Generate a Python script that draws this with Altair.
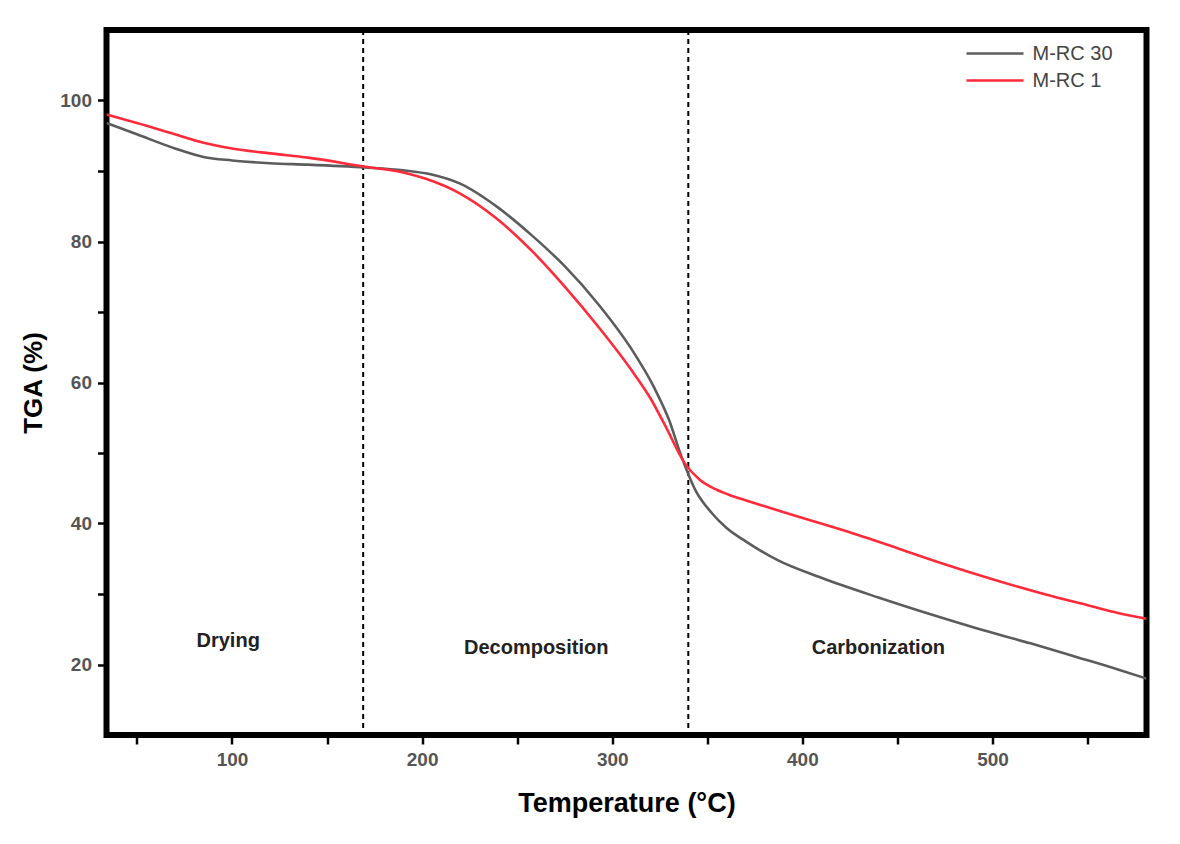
import altair as alt
import pandas as pd

# ---- data ----
temp_rc30 = [34, 50, 70, 85, 100, 120, 140, 170, 190, 205, 220, 240, 258, 275, 293, 310, 322,
             330, 336, 344, 352, 360, 370, 387, 410, 440, 470, 492, 520, 545, 566, 581]
tga_rc30 = [96.8, 95.2, 93.2, 92.0, 91.5, 91.1, 90.9, 90.5, 90.1, 89.5, 88.2, 84.8, 80.8, 76.5,
            71.0, 64.8, 59.3, 54.6, 49.8, 44.6, 41.6, 39.4, 37.5, 34.8, 32.3, 29.5, 26.9, 25.1,
            23.0, 21.0, 19.3, 18.0]

temp_rc1 = [34, 50, 70, 85, 100, 120, 140, 170, 190, 202, 220, 239, 258, 275, 293, 310, 320,
            328, 338, 346, 354, 362, 370, 395, 422, 450, 474, 500, 527, 550, 566, 581]
tga_rc1 = [98.0, 96.8, 95.2, 94.0, 93.2, 92.5, 91.9, 90.6, 89.8, 88.9, 86.8, 83.3, 78.6, 73.6,
           67.8, 61.8, 57.8, 53.8, 48.6, 46.2, 44.9, 44.0, 43.3, 41.2, 39.0, 36.5, 34.3, 32.1,
           30.0, 28.4, 27.3, 26.5]

series_names = ["M-RC 30", "M-RC 1"]
series_colors = ["#5c5c5c", "#ff2b3b"]

boundary_temps = [169, 340]

region_labels = ["Drying", "Decomposition", "Carbonization"]
region_temps = [98, 260, 440]
region_tga = [23.3, 22.4, 22.3]

x_ticks = list(range(50, 551, 50))
y_ticks = list(range(20, 101, 10))

FONT = "Liberation Sans"

df = pd.concat([
    pd.DataFrame({"T": temp_rc30, "TGA": tga_rc30, "series": series_names[0]}),
    pd.DataFrame({"T": temp_rc1, "TGA": tga_rc1, "series": series_names[1]}),
], ignore_index=True)

bounds_df = pd.DataFrame({"T": boundary_temps})
regions_df = pd.DataFrame({"T": region_temps, "TGA": region_tga, "label": region_labels})

x_scale = alt.Scale(domain=[34, 581], nice=False, zero=False)
y_scale = alt.Scale(domain=[10, 110], nice=False, zero=False)

x_axis = alt.Axis(
    title="Temperature (°C)", values=x_ticks,
    labelExpr="datum.value % 100 == 0 ? datum.label : ''",
    titleY=68, titleBaseline="middle", titleFontSize=27,
)
y_axis = alt.Axis(
    title="TGA (%)", values=y_ticks,
    labelExpr="datum.value % 20 == 0 ? datum.label : ''",
    titleX=-73, titleBaseline="middle",
)

lines = alt.Chart(df).mark_line(strokeWidth=2.6, interpolate="monotone", clip=True).encode(
    x=alt.X("T:Q", scale=x_scale, axis=x_axis),
    y=alt.Y("TGA:Q", scale=y_scale, axis=y_axis),
    color=alt.Color(
        "series:N",
        scale=alt.Scale(domain=series_names, range=series_colors),
        sort=series_names,
        legend=alt.Legend(
            title=None, orient="none", legendX=872, legendY=7,
            symbolType="M-1.9,0H1.9", symbolSize=900, symbolStrokeWidth=2.6,
            labelFontSize=20, labelColor="#444444", labelFont=FONT,
            labelOffset=21, rowPadding=0, padding=0,
        ),
    ),
)

rules = alt.Chart(bounds_df).mark_rule(strokeDash=[5, 4], strokeWidth=2, color="black").encode(
    x=alt.X("T:Q", scale=x_scale),
)

texts = alt.Chart(regions_df).mark_text(
    fontSize=20, fontWeight="bold", font=FONT, color="#222222"
).encode(
    x=alt.X("T:Q", scale=x_scale),
    y=alt.Y("TGA:Q", scale=y_scale),
    text="label:N",
)

chart = alt.layer(rules, lines, texts).properties(
    width=1040, height=705,
    autosize=alt.AutoSizeParams(type="none"),
    padding={"left": 106.5, "top": 30, "right": 33.5, "bottom": 109},
    background="white",
).configure_view(
    stroke="black", strokeWidth=6,
).configure_axis(
    domain=False, grid=False,
    tickColor="black", tickWidth=2.5, tickSize=9,
    labelFont=FONT, labelFontSize=19, labelColor="#555555", labelFontWeight="bold",
    labelPadding=6,
    titleFont=FONT, titleFontSize=26, titleFontWeight="bold", titleColor="black",
)

chart.save("out.html", embed_options={"renderer": "svg", "actions": False})
